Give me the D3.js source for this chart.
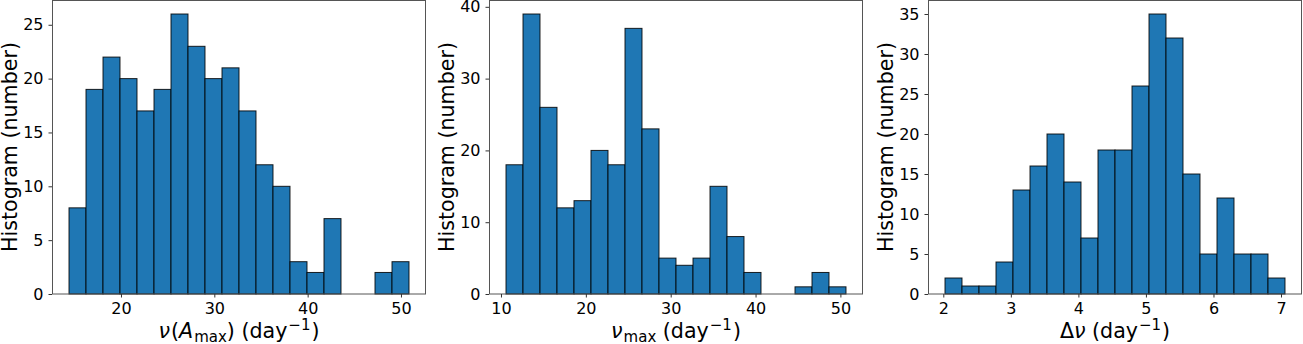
<!DOCTYPE html>
<html><head><meta charset="utf-8">
<script src="https://cdn.jsdelivr.net/npm/d3@7"></script>
<style>
html,body{margin:0;padding:0;background:#fff;}
svg{display:block;font-family:"DejaVu Sans",sans-serif;}
</style></head>
<body>
<svg id="chart" width="1303" height="344"></svg>
<script>
// ---- data ----
const ampCounts = [8,19,22,20,17,19,26,23,20,21,17,12,10,3,2,7,0,0,2,3];
const ampRange = [14.43, 50.86];
const ampXTicks = [20,30,40,50];
const ampYTicks = [0,5,10,15,20,25];

const numaxCounts = [18,39,26,12,13,20,18,37,23,5,4,5,15,8,3,0,0,1,3,1];
const numaxRange = [10.59, 50.66];
const numaxXTicks = [10,20,30,40,50];
const numaxYTicks = [0,10,20,30,40];

const dnuCounts = [2,1,1,4,13,16,20,14,7,18,18,26,35,32,15,5,12,5,5,2];
const dnuRange = [2.025, 7.059];
const dnuXTicks = [2,3,4,5,6,7];
const dnuYTicks = [0,5,10,15,20,25,30,35];

const yLabelText = "Histogram (number)";

// ---- layout ----
const panelLefts = [52, 489, 928];
const panelW = 374, plotTop = 0, plotBottom = 294;

const panels = [
  {counts: ampCounts, range: ampRange, xt: ampXTicks, yt: ampYTicks, label: "amp"},
  {counts: numaxCounts, range: numaxRange, xt: numaxXTicks, yt: numaxYTicks, label: "numax"},
  {counts: dnuCounts, range: dnuRange, xt: dnuXTicks, yt: dnuYTicks, label: "dnu"}
];

const svg = d3.select("#chart");

panels.forEach((p, i) => {
  const left = panelLefts[i], right = left + panelW;
  const n = p.counts.length;
  const bw = (p.range[1] - p.range[0]) / n;
  const span = p.range[1] - p.range[0];
  const x = d3.scaleLinear().domain([p.range[0] - 0.05*span, p.range[1] + 0.05*span]).range([left, right]);
  const ymax = d3.max(p.counts) * 1.05;
  const y = d3.scaleLinear().domain([0, ymax]).range([plotBottom, plotTop]);

  const bins = p.counts.map((c, k) => ({x0: p.range[0] + k*bw, x1: p.range[0] + (k+1)*bw, c}));

  const g = svg.append("g");
  g.selectAll("rect.bar").data(bins.filter(b => b.c > 0)).join("rect")
    .attr("class","bar")
    .attr("x", d => x(d.x0))
    .attr("y", d => y(d.c))
    .attr("width", d => x(d.x1) - x(d.x0))
    .attr("height", d => y(0) - y(d.c))
    .attr("fill", "#1f77b4")
    .attr("stroke", "#000")
    .attr("stroke-opacity", 0.85)
    .attr("stroke-width", 1);

  // frame
  g.append("rect")
    .attr("x", left + 0.5).attr("y", plotTop + 0.5)
    .attr("width", panelW - 1).attr("height", plotBottom - plotTop - 0.5)
    .attr("fill", "none").attr("stroke", "#555").attr("stroke-width", 1);

  // axes
  const xa = d3.axisBottom(x).tickValues(p.xt).tickSize(3.5).tickPadding(5).tickFormat(d3.format("d"));
  const ya = d3.axisLeft(y).tickValues(p.yt).tickSize(3.5).tickPadding(5).tickFormat(d3.format("d"));
  const gx = svg.append("g").attr("transform", `translate(0,${plotBottom})`).call(xa);
  const gy = svg.append("g").attr("transform", `translate(${left},0)`).call(ya);
  [gx, gy].forEach(a => {
    a.select(".domain").remove();
    a.selectAll(".tick line").attr("stroke", "#333");
    a.selectAll("text").attr("font-size", 16).attr("fill", "#000")
      .attr("font-family", "DejaVu Sans");
  });

  // y label
  svg.append("text")
    .attr("transform", `translate(${left - 35.5},${(plotTop + plotBottom) / 2}) rotate(-90)`)
    .attr("text-anchor", "middle")
    .attr("font-size", 20.6)
    .attr("fill", "#000")
    .text(yLabelText);

  // x label
  const cx = (left + right) / 2;
  const t = svg.append("text").attr("x", cx).attr("y", 338)
    .attr("text-anchor", "middle").attr("font-size", 20.6).attr("fill", "#000");
  if (p.label === "amp") {
    t.append("tspan").attr("font-style", "italic").text("ν");
    t.append("tspan").attr("dx", 1).text("(");
    t.append("tspan").attr("font-style", "italic").text("A");
    t.append("tspan").attr("font-size", 15).attr("dx", 1).attr("dy", 4).text("max");
    t.append("tspan").attr("dy", -4).text(") (day");
  } else if (p.label === "numax") {
    t.append("tspan").attr("font-style", "italic").text("ν");
    t.append("tspan").attr("font-size", 15).attr("dx", 1).attr("dy", 4).text("max");
    t.append("tspan").attr("dy", -4).text(" (day");
  } else {
    t.append("tspan").text("Δ");
    t.append("tspan").attr("font-style", "italic").text("ν");
    t.append("tspan").text(" (day");
  }
  t.append("tspan").attr("font-size", 15).attr("dx", 1).attr("dy", -8).text("−1");
  t.append("tspan").attr("dx", 1).attr("dy", 8).text(")");
});
</script>
</body></html>
